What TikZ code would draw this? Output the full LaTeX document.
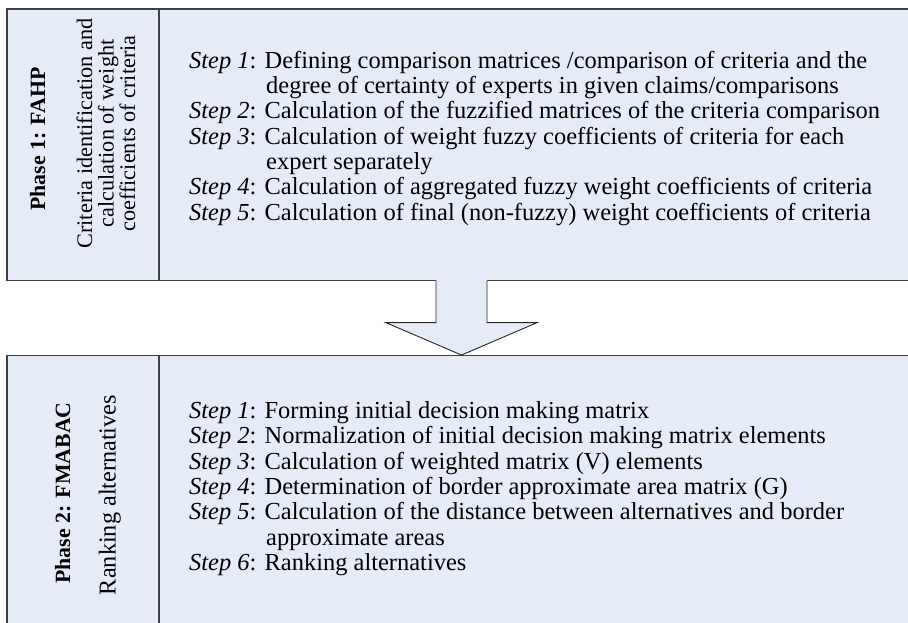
\documentclass[tikz,border=0pt]{standalone}
\usepackage{fontspec}
\setmainfont{Liberation Serif}
\usetikzlibrary{calc}
\definecolor{boxfill}{RGB}{230,236,247}
\definecolor{boxline}{RGB}{64,64,64}
\newlength\calw
\AtBeginDocument{%
\settowidth\calw{\fontsize{10pt}{12pt}\selectfont\textit{Step 1}: Defining comparison matrices /comparison of criteria and the}%
\pgfmathsetmacro\stepfs{6780/\calw}%
\settowidth\calw{\fontsize{10pt}{12pt}\selectfont Ranking alternatives}%
\pgfmathsetmacro\colfs{2000/\calw}%
\settowidth\calw{\fontsize{10pt}{12pt}\selectfont Criteria identification and}%
\pgfmathsetmacro\colfsA{2300/\calw}%
\settowidth\calw{\fontsize{10pt}{12pt}\selectfont\bfseries Phase 2: FMABAC}%
\pgfmathsetmacro\boldfs{1810/\calw}%
}
\tikzset{
  box/.style={draw=boxline, line width=1.3pt, fill=boxfill, inner sep=0pt},
  arrowline/.style={draw=black!85, line width=0.9pt, line join=miter},
  steptext/.style={anchor=base west, inner sep=0pt, font=\fontsize{\stepfs pt}{\stepfs pt}\selectfont},
  coltext/.style={anchor=base, inner sep=0pt, rotate=90, font=\fontsize{\colfs pt}{\colfs pt}\selectfont},
  coltextA/.style={anchor=base, inner sep=0pt, rotate=90, font=\fontsize{\colfsA pt}{\colfsA pt}\selectfont},
  coltitle/.style={anchor=base, inner sep=0pt, rotate=90, font=\fontsize{\boldfs pt}{\boldfs pt}\selectfont\bfseries},
}
\begin{document}
\begin{tikzpicture}[x=1pt, y=-1pt]
\useasboundingbox (0,0) rectangle (908,622);

% boxes
\node[box, minimum width=909pt, minimum height=271.5pt] (top) at (461.5,144.75) {};
\node[box, minimum width=152pt, minimum height=271.5pt] (topcol) at (83,144.75) {};
\node[box, minimum width=909pt, minimum height=284.3pt] (bottom) at (461.5,497.85) {};
\node[box, minimum width=152pt, minimum height=284.3pt] (botcol) at (83,497.85) {};

% block arrow from top box to bottom box
\coordinate (at) at (top.south);
\coordinate (ab) at (bottom.north);
\fill[boxfill] ($(at)+(-25.5,-1.5)$) -- ($(at)+(-25.5,41.5)$) -- ($(at)+(-75.5,41.5)$) -- (ab)
  -- ($(at)+(75.5,41.5)$) -- ($(at)+(25.5,41.5)$) -- ($(at)+(25.5,-1.5)$) -- cycle;
\draw[arrowline] ($(at)+(-25.5,-0.6)$) -- ($(at)+(-25.5,41.5)$) -- ($(at)+(-75.5,41.5)$) -- (ab)
  -- ($(at)+(75.5,41.5)$) -- ($(at)+(25.5,41.5)$) -- ($(at)+(25.5,-0.6)$);

% left column texts
\node[coltitle] (p1) at (45,139) {Phase 1: FAHP};
\node[coltextA] (p1a) at (92,133.5) {Criteria identification and};
\node[coltextA] (p1b) at (113.5,133.5) {calculation of weight};
\node[coltextA] (p1c) at (135,133.5) {coefficients of criteria};
\node[coltitle] (p2) at (70,493) {Phase 2: FMABAC};
\node[coltext] (p2a) at (115.5,495) {Ranking alternatives};

% phase 1 steps
\node[steptext] (a1) at (189,68.3) {\textit{Step 1}: Defining comparison matrices /comparison of criteria and the};
\node[steptext] (a1b) at (266,93.6) {degree of certainty of experts in given claims/comparisons};
\node[steptext] (a2) at (189,118.9) {\textit{Step 2}: Calculation of the fuzzified matrices of the criteria comparison};
\node[steptext] (a3) at (189,144.2) {\textit{Step 3}: Calculation of weight fuzzy coefficients of criteria for each};
\node[steptext] (a3b) at (266,169.5) {expert separately};
\node[steptext] (a4) at (189,194.8) {\textit{Step 4}: Calculation of aggregated fuzzy weight coefficients of criteria};
\node[steptext] (a5) at (189,220.1) {\textit{Step 5}: Calculation of final (non-fuzzy) weight coefficients of criteria};

% phase 2 steps
\node[steptext] (b1) at (189,418.6) {\textit{Step 1}: Forming initial decision making matrix};
\node[steptext] (b2) at (189,443.9) {\textit{Step 2}: Normalization of initial decision making matrix elements};
\node[steptext] (b3) at (189,469.2) {\textit{Step 3}: Calculation of weighted matrix (V) elements};
\node[steptext] (b4) at (189,494.5) {\textit{Step 4}: Determination of border approximate area matrix (G)};
\node[steptext] (b5) at (189,519.8) {\textit{Step 5}: Calculation of the distance between alternatives and border};
\node[steptext] (b5b) at (266,545.1) {approximate areas};
\node[steptext] (b6) at (189,570.4) {\textit{Step 6}: Ranking alternatives};
\end{tikzpicture}
\end{document}
